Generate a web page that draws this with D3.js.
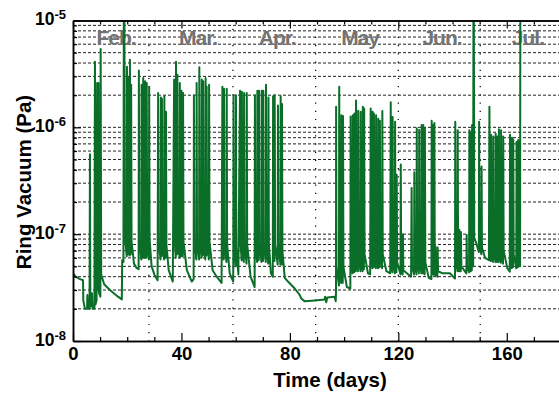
<!DOCTYPE html>
<html>
<head>
<meta charset="utf-8">
<script src="https://cdn.jsdelivr.net/npm/d3@7"></script>
<style>
  html, body { margin: 0; padding: 0; background: #fff; overflow: hidden; }
  svg { display: block; font-family: "Liberation Sans", Arial, Helvetica, sans-serif; font-weight: bold; }
</style>
</head>
<body>
<svg id="chart" width="559" height="394"></svg>
<script>
// ring vacuum readings, [day, pressure in Pa]
const janPts = [
  [0, 4.3e-8], [1.0, 4.0e-8], [2.6, 3.8e-8], [3.7, 3.7e-8], [3.8, 2.4e-8], [4.4, 2.0e-8], [5.2, 2.0e-8],
  [5.3, 2.7e-8], [5.5, 2.0e-8], [6.1, 2.0e-8], [6.25, 5.6e-7], [6.4, 2.1e-8], [7.0, 2.8e-8], [7.2, 2.0e-8],
  [7.9, 2.0e-8], [8.1, 4.1e-6], [8.3, 2.2e-8], [8.7, 2.4e-8], [8.9, 2.6e-6], [9.1, 3.0e-8], [9.4, 2.6e-6],
  [9.6, 2.8e-8], [10.1, 2.6e-8], [10.2, 5.4e-6], [10.4, 4.2e-8], [11.5, 3.4e-8], [13.6, 3.0e-8],
  [16.6, 2.6e-8], [18.0, 2.45e-8]
];
const febPts = [
  [18.15, 5.7e-8], [18.6, 5.5e-8], [18.75, 1.5e-5], [18.95, 1.5e-5], [19.1, 1.0e-7], [19.8, 6.2e-8],
  [19.9, 3.7e-6], [20.05, 9.0e-8], [20.3, 6.5e-8], [20.4, 2.9e-6], [20.55, 9.0e-8], [20.9, 6.3e-8],
  [21.0, 4.3e-6], [21.15, 9.0e-8], [21.35, 6.5e-8], [21.45, 2.5e-6], [21.6, 8.5e-8], [22.5, 5.3e-8],
  [23.5, 4.8e-8], [24.2, 4.7e-8],
  [24.3, 3.4e-6], [24.45, 9.0e-8], [25.2, 5.8e-8], [25.3, 2.5e-6], [25.45, 9.0e-8], [25.8, 6.0e-8],
  [25.9, 2.9e-6], [26.05, 9.0e-8], [26.5, 6.0e-8], [26.6, 2.7e-6], [26.75, 9.0e-8], [27.1, 6.0e-8],
  [27.2, 2.6e-6], [27.35, 9.0e-8], [28.0, 5.8e-8], [28.1, 2.4e-6], [28.25, 9.0e-8], [29.0, 5.0e-8],
  [30.0, 4.2e-8], [31.2, 3.7e-8],
  [31.4, 2.1e-6], [31.55, 8.5e-8], [32.3, 5.8e-8], [32.4, 1.9e-6], [32.55, 8.5e-8], [32.7, 6.2e-8],
  [32.8, 1.85e-6], [32.95, 8.5e-8], [33.6, 5.8e-8], [33.7, 1.95e-6], [33.85, 8.5e-8], [34.2, 6.0e-8],
  [34.3, 1.4e-6], [34.45, 8.0e-8], [35.3, 4.6e-8], [36.8, 3.6e-8],
  [37.3, 2.8e-6], [37.45, 9.0e-8], [37.9, 6.0e-8], [38.0, 4.1e-6], [38.15, 9.5e-8], [38.4, 6.5e-8],
  [38.5, 3.1e-6], [38.65, 9.0e-8], [39.3, 6.0e-8], [39.4, 2.6e-6], [39.55, 9.0e-8], [39.9, 6.2e-8],
  [40.0, 2.2e-6], [40.15, 9.0e-8], [40.5, 6.2e-8], [40.6, 2.1e-6], [40.75, 8.5e-8], [42.0, 4.6e-8],
  [43.8, 3.6e-8]
];
const marPts = [
  [44.5, 3.8e-8], [44.6, 2.0e-6], [44.75, 9.0e-8], [45.5, 5.8e-8], [45.6, 2.6e-6], [45.75, 9.0e-8],
  [46.5, 5.8e-8], [46.6, 3.65e-6], [46.75, 9.5e-8], [47.4, 6.0e-8], [47.5, 2.8e-6], [47.65, 9.0e-8],
  [47.9, 6.3e-8], [48.0, 2.7e-6], [48.15, 9.0e-8], [48.8, 5.8e-8], [48.9, 2.9e-6], [49.05, 9.0e-8],
  [49.2, 6.3e-8], [49.3, 2.4e-6], [49.45, 9.0e-8], [50.1, 5.8e-8], [50.2, 2.5e-6], [50.35, 8.5e-8],
  [51.5, 4.6e-8], [53.0, 4.0e-8], [54.8, 3.5e-8],
  [55.1, 2.4e-6], [55.25, 8.5e-8], [55.6, 5.8e-8], [55.7, 2.3e-6], [55.85, 8.5e-8], [56.6, 5.5e-8],
  [56.7, 2.3e-6], [56.85, 8.0e-8], [57.8, 4.3e-8], [59.1, 3.6e-8],
  [59.2, 2.0e-6], [59.35, 8.0e-8], [60.0, 5.0e-8], [60.1, 2.0e-6], [60.25, 7.5e-8], [61.0, 4.2e-8],
  [61.6, 2.2e-6], [61.75, 8.5e-8], [62.2, 5.7e-8], [62.3, 2.15e-6], [62.45, 8.5e-8], [63.0, 5.5e-8],
  [63.1, 2.1e-6], [63.25, 8.5e-8], [64.0, 5.3e-8], [64.1, 2.1e-6], [64.25, 8.0e-8], [65.5, 4.0e-8],
  [67.0, 3.2e-8],
  [67.1, 2.0e-6], [67.25, 8.5e-8], [67.9, 5.5e-8], [68.0, 2.2e-6], [68.15, 8.5e-8], [68.5, 5.7e-8],
  [68.6, 2.2e-6], [68.75, 8.5e-8], [69.5, 5.5e-8], [69.6, 2.2e-6], [69.75, 8.5e-8], [70.1, 5.6e-8],
  [70.2, 2.2e-6], [70.35, 8.5e-8], [71.1, 5.5e-8], [71.2, 2.5e-6], [71.35, 8.5e-8], [72.0, 5.3e-8],
  [72.1, 1.9e-6], [72.25, 8.0e-8], [73.0, 4.3e-8], [73.7, 4.0e-8]
];
const aprPts = [
  [73.8, 1.95e-6], [73.95, 8.0e-8], [74.3, 5.6e-8], [74.4, 2.0e-6], [74.55, 8.0e-8], [75.5, 5.2e-8],
  [75.6, 1.6e-6], [75.75, 8.0e-8], [76.5, 5.2e-8], [76.6, 1.95e-6], [76.75, 7.5e-8], [77.0, 5.2e-8],
  [77.1, 1.65e-6], [77.25, 7.0e-8], [78.1, 3.9e-8], [79.3, 3.6e-8], [81.8, 3.1e-8], [83.6, 2.7e-8],
  [84.2, 2.5e-8], [85.5, 2.35e-8], [89.2, 2.4e-8], [92.8, 2.45e-8], [93.0, 2.6e-8], [93.4, 2.3e-8],
  [93.8, 2.55e-8], [96.5, 2.6e-8], [96.9, 2.35e-8], [97.0, 2.8e-8]
];
const mayPts = [
  [97.05, 1.56e-6], [97.2, 5.0e-8], [98.1, 3.3e-8], [98.2, 2.4e-6], [98.35, 5.5e-8], [98.9, 3.5e-8],
  [99.0, 1.3e-6], [99.15, 5.0e-8], [99.5, 3.5e-8], [99.6, 1.28e-6], [99.75, 5.0e-8], [101.0, 3.2e-8],
  [102.3, 3.1e-8],
  [102.4, 1.26e-6], [102.55, 6.5e-8], [103.1, 4.3e-8], [103.2, 1.3e-6], [103.35, 6.5e-8], [103.7, 4.4e-8],
  [103.8, 1.35e-6], [103.95, 6.5e-8], [104.3, 4.5e-8], [104.4, 1.78e-6], [104.55, 7.0e-8], [105.1, 4.5e-8],
  [105.2, 1.43e-6], [105.35, 6.5e-8], [106.0, 4.5e-8], [106.1, 1.4e-6], [106.25, 6.5e-8], [106.8, 4.5e-8],
  [106.9, 1.56e-6], [107.05, 6.5e-8], [107.3, 4.7e-8], [107.4, 1.5e-6], [107.55, 6.5e-8], [108.8, 4.3e-8],
  [109.6, 4.2e-8],
  [109.8, 1.5e-6], [109.95, 7.0e-8], [110.4, 4.8e-8], [110.5, 1.4e-6], [110.65, 7.0e-8], [110.9, 4.9e-8],
  [111.0, 1.35e-6], [111.15, 7.0e-8], [111.7, 4.8e-8], [111.8, 1.3e-6], [111.95, 7.0e-8], [112.5, 4.8e-8],
  [112.6, 1.2e-6], [112.75, 7.0e-8], [113.1, 4.9e-8], [113.2, 1.15e-6], [113.35, 7.0e-8], [114.0, 4.8e-8],
  [114.1, 1.42e-6], [114.25, 6.5e-8], [115.6, 4.5e-8], [117.0, 4.3e-8],
  [117.2, 1.72e-6], [117.35, 6.5e-8], [117.8, 4.4e-8], [117.9, 1.25e-6], [118.05, 6.5e-8], [118.7, 4.3e-8],
  [118.8, 1.13e-6], [118.95, 6.0e-8], [119.3, 4.4e-8], [119.4, 3.6e-7], [119.55, 5.5e-8], [120.8, 4.2e-8],
  [120.9, 4.5e-7], [121.05, 5.5e-8], [121.6, 4.2e-8], [121.7, 1.0e-7], [121.85, 4.6e-8], [124.7, 4.0e-8]
];
const junPts = [
  [124.9, 2.7e-7], [125.05, 5.0e-8], [125.8, 4.2e-8], [125.9, 3.8e-7], [126.05, 5.5e-8], [126.7, 4.2e-8],
  [126.8, 9.8e-7], [126.95, 6.0e-8], [127.6, 4.3e-8], [127.7, 9.5e-7], [127.85, 6.0e-8], [128.5, 4.3e-8],
  [128.6, 1.05e-6], [128.75, 6.0e-8], [129.1, 4.3e-8], [129.2, 1.05e-6], [129.35, 6.0e-8], [129.7, 4.2e-8],
  [129.8, 9.8e-7], [129.95, 5.5e-8], [131.2, 3.9e-8], [132.2, 3.8e-8],
  [132.3, 1.15e-6], [132.45, 6.0e-8], [132.7, 4.2e-8], [132.8, 1.05e-6], [132.95, 6.0e-8], [133.2, 4.2e-8],
  [133.3, 1.1e-6], [133.45, 5.5e-8], [133.6, 4.1e-8], [133.7, 7.7e-8], [133.85, 4.5e-8], [134.4, 4.0e-8],
  [134.5, 7.5e-8], [134.65, 4.5e-8], [136.4, 4.3e-8], [139.0, 4.3e-8], [140.9, 3.85e-8],
  [141.0, 1.13e-6], [141.15, 6.0e-8], [141.8, 4.5e-8], [141.9, 9.4e-7], [142.05, 6.0e-8], [142.4, 4.5e-8],
  [142.5, 1.1e-7], [142.65, 5.0e-8], [143.0, 4.5e-8], [143.1, 1.05e-7], [143.25, 5.0e-8], [145.1, 4.3e-8],
  [145.2, 9.8e-8], [145.35, 5.0e-8], [146.1, 4.4e-8], [146.2, 9.4e-7], [146.35, 6.0e-8], [146.7, 4.5e-8],
  [146.8, 9.0e-7], [146.95, 6.0e-8], [147.1, 4.6e-8], [147.2, 1.05e-6], [147.35, 6.0e-8], [147.6, 5.0e-8],
  [147.7, 1.5e-5], [147.85, 1.5e-5], [148.0, 9.0e-8], [148.6, 8.5e-8], [149.2, 7.5e-8], [149.7, 6.8e-8],
  [149.8, 1.13e-6], [149.95, 8.0e-8], [150.6, 6.5e-8], [150.7, 4.3e-7], [150.85, 7.5e-8], [152.0, 6.0e-8],
  [153.4, 5.7e-8]
];
const julPts = [
  [153.6, 1.56e-6], [153.75, 7.5e-8], [154.1, 5.6e-8], [154.2, 8.5e-7], [154.35, 7.5e-8], [154.9, 5.5e-8],
  [155.0, 8.2e-7], [155.15, 7.5e-8], [155.8, 5.5e-8], [155.9, 8.7e-7], [156.05, 7.5e-8], [156.4, 5.5e-8],
  [156.5, 8.2e-7], [156.65, 7.5e-8], [157.0, 5.5e-8], [157.1, 9.6e-7], [157.25, 7.5e-8], [157.8, 5.4e-8],
  [157.9, 9.4e-7], [158.05, 7.5e-8], [158.6, 5.3e-8], [158.7, 8.2e-7], [158.85, 7.0e-8], [160.2, 4.8e-8],
  [161.1, 4.45e-8],
  [161.2, 8.5e-7], [161.35, 6.5e-8], [161.8, 4.8e-8], [161.9, 8.0e-7], [162.05, 6.5e-8], [162.3, 4.9e-8],
  [162.4, 7.7e-7], [162.55, 6.5e-8], [163.5, 4.8e-8], [163.6, 7.3e-7], [163.75, 6.5e-8], [164.1, 4.9e-8],
  [164.2, 7.6e-7], [164.35, 6.5e-8], [164.9, 5.0e-8], [165.0, 1.5e-5]
];

const monthNames = ["Feb.", "Mar.", "Apr.", "May", "Jun.", "Jul."];
const monthLabelDays = [15.9, 46.1, 75.3, 105.9, 136.1, 167.8];
const monthStartDays = [28, 59, 89.5, 120, 150.2];
const xMajorTicks = [0, 40, 80, 120, 160];
const xMinorTicks = [10, 20, 30, 50, 60, 70, 90, 100, 110, 130, 140, 150, 170];
const yDecades = [-8, -7, -6, -5];
const yMantissas = [2, 3, 4, 5, 6, 7, 8, 9];

const series = [].concat(janPts, febPts, marPts, aprPts, mayPts, junPts, julPts);

const svg = d3.select("#chart"),
  plotLeft = 73, plotRight = 561, plotTop = 20.5, plotBottom = 341;

const x = d3.scaleLinear().domain([0, 180]).range([plotLeft, plotRight]);
const y = d3.scaleLog().domain([1e-8, 1e-5]).range([plotBottom, plotTop]);

const minorValues = yDecades.slice(0, 3).flatMap((e) => yMantissas.map((m) => m * Math.pow(10, e)));
const gridValues = minorValues.concat([1e-7, 1e-6]);

// horizontal dashed grid
svg.append("g")
  .selectAll("line")
  .data(gridValues)
  .enter()
  .append("line")
  .attr("x1", plotLeft)
  .attr("x2", plotRight)
  .attr("y1", (d) => y(d))
  .attr("y2", (d) => y(d))
  .attr("stroke", "#222")
  .attr("stroke-width", 1)
  .attr("stroke-dasharray", "3,2");

// month boundaries, dotted
svg.append("g")
  .selectAll("line")
  .data(monthStartDays)
  .enter()
  .append("line")
  .attr("x1", (d) => x(d))
  .attr("x2", (d) => x(d))
  .attr("y1", plotTop)
  .attr("y2", plotBottom)
  .attr("stroke", "#000")
  .attr("stroke-width", 1.2)
  .attr("stroke-dasharray", "1.2,7");

// month labels over the grid
svg.append("g")
  .selectAll("text")
  .data(monthNames)
  .enter()
  .append("text")
  .attr("x", (d, i) => x(monthLabelDays[i]))
  .attr("y", 45)
  .attr("text-anchor", "middle")
  .attr("fill", "#737373")
  .style("font-size", "21px")
  .style("letter-spacing", "-1px")
  .text((d) => d);

svg.append("defs")
  .append("clipPath")
  .attr("id", "plotclip")
  .append("rect")
  .attr("x", plotLeft)
  .attr("y", plotTop)
  .attr("width", plotRight - plotLeft)
  .attr("height", plotBottom - plotTop);

const line = d3.line()
  .x((d) => x(d[0]))
  .y((d) => y(d[1]));

svg.append("path")
  .datum(series)
  .attr("clip-path", "url(#plotclip)")
  .attr("fill", "none")
  .attr("stroke", "#0a6e28")
  .attr("stroke-width", 2)
  .attr("stroke-linejoin", "round")
  .attr("d", line);

// axes
function styleAxis(sel) {
  sel.select(".domain").attr("stroke", "#000").attr("stroke-width", 1.5);
  sel.selectAll(".tick line").attr("stroke", "#000").attr("stroke-width", 1.2);
}

svg.append("g")
  .attr("transform", "translate(0," + plotBottom + ")")
  .call(d3.axisBottom(x).tickValues(xMinorTicks).tickSize(-4).tickSizeOuter(0).tickFormat(""))
  .call(styleAxis);

const xAxis = svg.append("g")
  .attr("transform", "translate(0," + plotBottom + ")")
  .call(d3.axisBottom(x).tickValues(xMajorTicks).tickSize(-8).tickSizeOuter(0).tickPadding(6))
  .call(styleAxis);
xAxis.selectAll("text")
  .attr("fill", "#000")
  .style("font-size", "18.5px")
  .style("font-family", "'Liberation Sans', Arial, sans-serif")
  .style("font-weight", "bold");

svg.append("g")
  .attr("transform", "translate(0," + plotTop + ")")
  .call(d3.axisTop(x).tickValues(xMinorTicks).tickSize(-4).tickSizeOuter(0).tickFormat(""))
  .call(styleAxis);
svg.append("g")
  .attr("transform", "translate(0," + plotTop + ")")
  .call(d3.axisTop(x).tickValues(xMajorTicks).tickSize(-8).tickSizeOuter(0).tickFormat(""))
  .call(styleAxis);

svg.append("g")
  .attr("transform", "translate(" + plotLeft + ",0)")
  .call(d3.axisLeft(y).tickValues(minorValues).tickSize(-4).tickSizeOuter(0).tickFormat(""))
  .call(styleAxis);
svg.append("g")
  .attr("transform", "translate(" + plotLeft + ",0)")
  .call(d3.axisLeft(y).tickValues(yDecades.map((e) => Math.pow(10, e))).tickSize(-8).tickSizeOuter(0).tickFormat(""))
  .call(styleAxis);

// y tick labels as 10^n
const yLabels = svg.append("g")
  .selectAll("text")
  .data(yDecades)
  .enter()
  .append("text")
  .attr("x", 66)
  .attr("y", (d) => y(Math.pow(10, d)) + 4.5)
  .attr("text-anchor", "end")
  .style("font-size", "17.5px");
yLabels.append("tspan").text("10");
yLabels.append("tspan")
  .attr("dy", -6)
  .style("font-size", "13px")
  .text((d) => "-" + Math.abs(d));

svg.append("text")
  .attr("x", 330)
  .attr("y", 387)
  .attr("text-anchor", "middle")
  .style("font-size", "20.5px")
  .text("Time (days)");

svg.append("text")
  .attr("transform", "translate(31,182) rotate(-90)")
  .attr("text-anchor", "middle")
  .style("font-size", "20.5px")
  .text("Ring Vacuum (Pa)");
</script>
</body>
</html>
